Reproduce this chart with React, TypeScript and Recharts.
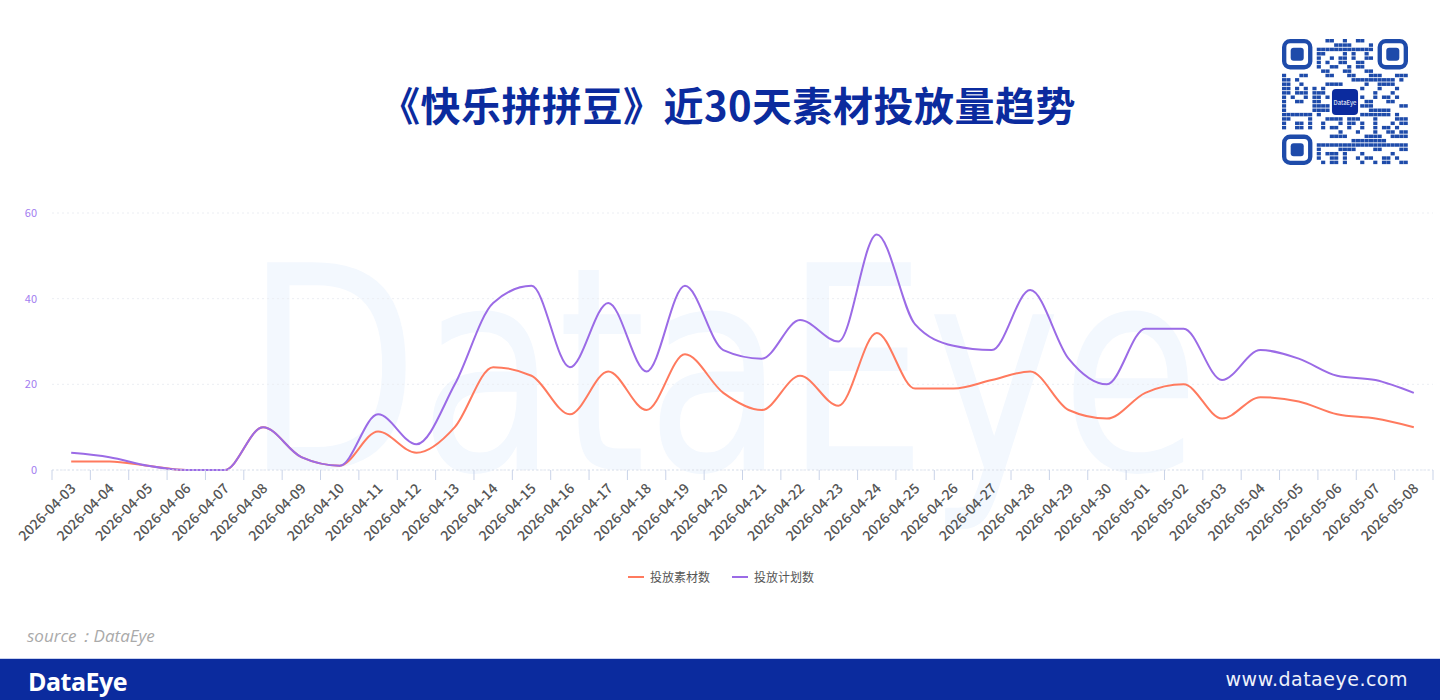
import React from "react";
import { LineChart, Line, XAxis, YAxis, CartesianGrid } from "recharts";

const dates = [
  "2026-04-03", "2026-04-04", "2026-04-05", "2026-04-06", "2026-04-07", "2026-04-08",
  "2026-04-09", "2026-04-10", "2026-04-11", "2026-04-12", "2026-04-13", "2026-04-14",
  "2026-04-15", "2026-04-16", "2026-04-17", "2026-04-18", "2026-04-19", "2026-04-20",
  "2026-04-21", "2026-04-22", "2026-04-23", "2026-04-24", "2026-04-25", "2026-04-26",
  "2026-04-27", "2026-04-28", "2026-04-29", "2026-04-30", "2026-05-01", "2026-05-02",
  "2026-05-03", "2026-05-04", "2026-05-05", "2026-05-06", "2026-05-07", "2026-05-08",
];

// 投放素材数
const materials = [
  2, 2, 1, 0, 0, 10, 3, 1, 9, 4, 10, 24,
  22, 13, 23, 14, 27, 18, 14, 22, 15, 32, 19, 19,
  21, 23, 14, 12, 18, 20, 12, 17, 16, 13, 12, 10,
];

// 投放计划数
const plans = [
  4, 3, 1, 0, 0, 10, 3, 1, 13, 6, 20, 39,
  43, 24, 39, 23, 43, 28, 26, 35, 30, 55, 34, 29,
  28, 42, 26, 20, 33, 33, 21, 28, 26, 22, 21, 18,
];

const yTicks = [0, 20, 40, 60];

const seriesNames = ["投放素材数", "投放计划数"];
const seriesColors = ["#FF7A5E", "#9B6BE6"];

const data = dates.map((d, i) => ({ date: d, materials: materials[i], plans: plans[i] }));

const FONT = '"Noto Sans CJK SC", "Noto Sans", sans-serif';
const BRAND = "#0B2B9E";

const DateTick = (props: any) => {
  const { x, y, payload, index } = props;
  const half = payload && payload.offset ? payload.offset : 19.2;
  const last = index === dates.length - 1;
  return (
    <g>
      <line x1={x - half} x2={x - half} y1={y} y2={y + 10} stroke="#C9D3E8" />
      {last && <line x1={x + half} x2={x + half} y1={y} y2={y + 10} stroke="#C9D3E8" />}
      <text
        transform={`translate(${x + 2},${y + 16}) rotate(-45)`}
        textAnchor="end"
        dy="0.35em"
        fontSize={14}
        fontWeight={500}
        fill="#555"
        fontFamily={FONT}
      >
        {payload.value}
      </text>
    </g>
  );
};

// decorative QR-like block
const QrCode = () => {
  const n = 29;
  const cell = 126 / n;
  const cells: React.ReactNode[] = [];
  const inFinder = (r: number, c: number) =>
    (r < 8 && c < 8) || (r < 8 && c >= n - 8) || (r >= n - 8 && c < 8);
  const inLogo = (r: number, c: number) => r >= 11 && r <= 17 && c >= 11 && c <= 17;
  for (let r = 0; r < n; r++) {
    for (let c = 0; c < n; c++) {
      if (inFinder(r, c) || inLogo(r, c)) continue;
      const h = (r * 31 + c * 17 + r * c * 7 + ((r ^ c) * 13)) % 11;
      if (h < 5) {
        cells.push(
          <rect key={`${r}-${c}`} x={c * cell} y={r * cell} width={cell * 0.95} height={cell * 0.8} fill="#1E4BAA" />
        );
      }
    }
  }
  const finder = (fx: number, fy: number, k: string) => (
    <g key={k}>
      <rect x={fx + cell * 0.5} y={fy + cell * 0.5} width={cell * 6} height={cell * 6} rx={6} fill="none" stroke="#1E4BAA" strokeWidth={cell} />
      <rect x={fx + cell * 2} y={fy + cell * 2} width={cell * 3} height={cell * 3} rx={3} fill="#1E4BAA" />
    </g>
  );
  return (
    <svg width={126} height={126} style={{ position: "absolute", left: 1282, top: 39 }}>
      {cells}
      {finder(0, 0, "a")}
      {finder((n - 7) * cell, 0, "b")}
      {finder(0, (n - 7) * cell, "c")}
      <rect x={cell * 11.5} y={cell * 11.5} width={cell * 6} height={cell * 6} rx={4} fill={BRAND} />
      <text x={63} y={66} textAnchor="middle" fontSize={6} fill="#fff" fontFamily={FONT}>DataEye</text>
    </svg>
  );
};

export default function App() {
  return (
    <div
      style={{
        position: "fixed",
        left: 0,
        top: 0,
        width: 1440,
        height: 700,
        background: "#fff",
        overflow: "hidden",
        fontFamily: FONT,
      }}
    >
      {/* watermark */}
      <svg width={1440} height={700} style={{ position: "absolute", left: 0, top: 0 }}>
        <text
          x={245}
          y={470}
          fontSize={285}
          textLength={955}
          lengthAdjust="spacingAndGlyphs"
          fill="#F3F8FE"
          fontFamily='"DejaVu Sans", sans-serif'
        >
          DataEye
        </text>
      </svg>

      <div
        style={{
          position: "absolute",
          left: 0,
          width: 1456,
          top: 76,
          textAlign: "center",
          fontSize: 40,
          fontWeight: 700,
          color: BRAND,
          lineHeight: "56px",
          letterSpacing: 0.5,
        }}
      >
        《快乐拼拼豆》近30天素材投放量趋势
      </div>

      <QrCode />

      <div style={{ position: "absolute", left: 0, top: 190 }}>
        <LineChart width={1440} height={400} data={data} margin={{ top: 23, right: 7, bottom: 0, left: 0 }}>
          <CartesianGrid vertical={false} stroke="#EBEEF3" strokeDasharray="2 3" />
          <XAxis
            dataKey="date"
            scale="band"
            interval={0}
            tickSize={0}
            tickMargin={0}
            height={120}
            axisLine={{ stroke: "#DDE3EE", strokeDasharray: "2 2" }}
            tickLine={false}
            tick={<DateTick />}
          />
          <YAxis
            domain={[0, 60]}
            ticks={yTicks}
            width={52}
            axisLine={false}
            tickLine={false}
            tickMargin={9}
            tick={{ fill: "#A27CF0", fontSize: 11, fontFamily: FONT }}
          />
          <Line
            type="monotone"
            dataKey="materials"
            name={seriesNames[0]}
            stroke={seriesColors[0]}
            strokeWidth={2}
            dot={false}
            activeDot={false}
            isAnimationActive={false}
          />
          <Line
            type="monotone"
            dataKey="plans"
            name={seriesNames[1]}
            stroke={seriesColors[1]}
            strokeWidth={2}
            dot={false}
            activeDot={false}
            isAnimationActive={false}
          />
        </LineChart>
      </div>

      {/* legend */}
      <div
        style={{
          position: "absolute",
          top: 568,
          left: 0,
          width: 1442,
          display: "flex",
          justifyContent: "center",
          gap: 22,
          fontSize: 12,
          color: "#555",
          lineHeight: "18px",
        }}
      >
        {seriesNames.map((name, i) => (
          <div key={name} style={{ display: "flex", alignItems: "center" }}>
            <span style={{ display: "inline-block", width: 16, height: 2, background: seriesColors[i], marginRight: 6 }} />
            {name}
          </div>
        ))}
      </div>

      <div
        style={{
          position: "absolute",
          left: 27,
          top: 624,
          fontSize: 17,
          fontStyle: "italic",
          color: "#AAAAAA",
          fontFamily: '"Open Sans", sans-serif',
        }}
      >
        source：DataEye
      </div>

      {/* footer */}
      <div
        style={{
          position: "absolute",
          left: 0,
          top: 658,
          width: 1440,
          height: 42,
          background: BRAND,
          borderTop: "1px solid #C9D2EE",
        }}
      >
        <div
          style={{
            position: "absolute",
            left: 28,
            top: 5,
            fontSize: 25,
            fontWeight: 700,
            color: "#fff",
            fontFamily: '"Open Sans", sans-serif',
            letterSpacing: -0.5,
          }}
        >
          DataEye
        </div>
        <div
          style={{
            position: "absolute",
            right: 32,
            top: 9,
            fontSize: 19,
            color: "#EEF1FA",
            fontFamily: '"DejaVu Sans", sans-serif',
            letterSpacing: 0.5,
          }}
        >
          www.dataeye.com
        </div>
      </div>
    </div>
  );
}
